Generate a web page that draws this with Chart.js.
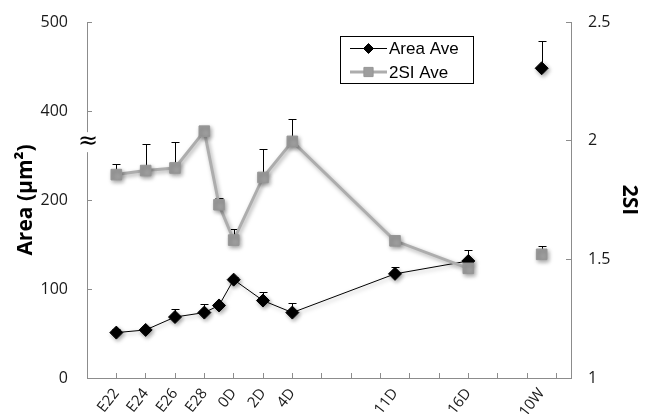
<!DOCTYPE html>
<html>
<head>
<meta charset="utf-8">
<script src="https://cdn.jsdelivr.net/npm/chart.js@4.4.1/dist/chart.umd.min.js"></script>
<style>
  html, body { margin: 0; padding: 0; background: #fff; }
  #wrap { position: relative; width: 654px; height: 414px; }
</style>
</head>
<body>
<div id="wrap"><canvas id="c" width="654" height="414"></canvas></div>
<script>
// ── Data ─────────────────────────────────────────────────────────────────────

const stages   = ['E22', 'E24', 'E26', 'E28', '', '0D', '2D', '4D', '11D', '16D', '10W'];
const stagePos = [1, 2, 3, 4, 4.5, 5, 6, 7, 10.5, 13, 15.5];

const areaAve = [51, 54, 68.5, 73.5, 81.5, 110.5, 87, 73.5, 117, 131.5, 448];
const areaErr = [4, 3, 8.5, 10, 3, 3, 9.5, 11, 7.5, 12, 31];

const siAve = [1.857, 1.874, 1.885, 2.040, 1.730, 1.581, 1.845, 1.997, 1.578, 1.462, 1.521];
const siErr = [0.045, 0.112, 0.108, 0.02, 0.027, 0.046, 0.12, 0.095, 0.02, 0.02, 0.036];

const areaTickLabels = ['0', '100', '200', '400', '500'];

// the area axis skips 300: everything above it slides down one step
const BREAK = 300;
const toAxis = v => v > BREAK ? v - 100 : v;

const FONT = "'Open Sans', sans-serif";
const AXIS_GREY = '#8c8c8c';
const lastIdx = stagePos.length - 1;

// ── Plugins ──────────────────────────────────────────────────────────────────

const shadow = {
  id: 'shadow',
  beforeDatasetDraw(chart) {
    const ctx = chart.ctx;
    ctx.save();
    ctx.shadowColor = 'rgba(0,0,0,0.35)';
    ctx.shadowBlur = 4;
    ctx.shadowOffsetX = 1.5;
    ctx.shadowOffsetY = 2;
  },
  afterDatasetDraw(chart) {
    chart.ctx.restore();
  }
};

const errorBars = {
  id: 'errorBars',
  beforeDatasetsDraw(chart) {
    const ctx = chart.ctx;
    ctx.save();
    ctx.strokeStyle = '#000';
    ctx.lineWidth = 1;
    chart.data.datasets.forEach((ds, di) => {
      const meta = chart.getDatasetMeta(di);
      const yScale = chart.scales[ds.yAxisID];
      meta.data.forEach((pt, i) => {
        const yTop = Math.round(yScale.getPixelForValue(ds.errTop[i])) + 0.5;
        const x = Math.round(pt.x) + 0.5;
        ctx.beginPath();
        ctx.moveTo(x, pt.y);
        ctx.lineTo(x, yTop);
        ctx.moveTo(x - 4, yTop);
        ctx.lineTo(x + 4, yTop);
        ctx.stroke();
      });
    });
    ctx.restore();
  }
};

const axisBreak = {
  id: 'axisBreak',
  afterDraw(chart) {
    const ctx = chart.ctx;
    const s = chart.scales.yArea;
    const y = s.getPixelForValue(265);
    const x = s.right;
    ctx.save();
    ctx.fillStyle = '#fff';
    ctx.fillRect(x - 3, y - 10, 6, 20);
    ctx.fillStyle = '#000';
    ctx.font = "24px 'DejaVu Sans', sans-serif";
    ctx.textAlign = 'center';
    ctx.textBaseline = 'middle';
    ctx.fillText('≈', x + 1, y);
    ctx.restore();
  }
};

const boxLegend = {
  id: 'boxLegend',
  afterDraw(chart) {
    const ctx = chart.ctx;
    ctx.save();
    ctx.fillStyle = '#fff';
    ctx.fillRect(340, 36, 133, 47);
    ctx.strokeStyle = '#000';
    ctx.lineWidth = 1;
    ctx.strokeRect(340.5, 36.5, 133, 47);
    chart.data.datasets.forEach((ds, i) => {
      const y = 48.5 + i * 23.5;
      ctx.strokeStyle = ds.borderColor;
      ctx.lineWidth = ds.borderWidth;
      ctx.beginPath();
      ctx.moveTo(350, y);
      ctx.lineTo(387, y);
      ctx.stroke();
      ctx.fillStyle = ds.pointBackgroundColor;
      ctx.strokeStyle = ds.pointBorderColor;
      ctx.lineWidth = 1;
      Chart.helpers.drawPoint(ctx, {
        pointStyle: ds.pointStyle,
        radius: ds.legendRadius,
        borderWidth: 1,
        rotation: 0
      }, 368.5, y);
      ctx.fillStyle = '#000';
      ctx.font = "17px 'Liberation Sans', Arial, sans-serif";
      ctx.textAlign = 'left';
      ctx.textBaseline = 'middle';
      ctx.fillText(ds.label, 389, y + 1);
    });
    ctx.restore();
  }
};

// ── Chart ────────────────────────────────────────────────────────────────────

const xTickValues = [];
for (let v = 0; v <= 16; v++) xTickValues.push(v);
stagePos.forEach((p, i) => {
  if (stages[i] && !Number.isInteger(p)) xTickValues.push(p);
});
xTickValues.sort((a, b) => a - b);

// fixed axis box sizes so the plot sits where the original one does
const fixWidth = w => s => {
  s.width = w;
  s.paddingTop = 0;
  s.paddingBottom = 0;
};

const ctx = document.getElementById('c').getContext('2d');

new Chart(ctx, {
  type: 'line',
  data: {
    datasets: [
      {
        label: 'Area Ave',
        yAxisID: 'yArea',
        data: stagePos.map((x, i) => ({ x, y: toAxis(areaAve[i]) })),
        errTop: areaAve.map((v, i) => toAxis(v + areaErr[i])),
        borderColor: '#000',
        borderWidth: 1,
        pointStyle: 'rectRot',
        pointRadius: 6.5,
        legendRadius: 5,
        pointBorderWidth: 1,
        pointBackgroundColor: '#000',
        pointBorderColor: '#000',
        order: 2,
        segment: {
          borderColor: c => c.p1DataIndex === lastIdx ? 'rgba(0,0,0,0)' : undefined
        }
      },
      {
        label: '2SI Ave',
        yAxisID: 'ySI',
        data: stagePos.map((x, i) => ({ x, y: siAve[i] })),
        errTop: siAve.map((v, i) => v + siErr[i]),
        borderColor: '#adadad',
        borderWidth: 3,
        pointStyle: 'rect',
        pointRadius: 7.5,
        legendRadius: 6.5,
        pointBorderWidth: 1,
        pointBackgroundColor: '#9e9e9e',
        pointBorderColor: '#969696',
        order: 1,
        segment: {
          borderColor: c => c.p1DataIndex === lastIdx ? 'rgba(0,0,0,0)' : undefined
        }
      }
    ]
  },
  options: {
    responsive: false,
    animation: false,
    devicePixelRatio: 1,
    layout: { padding: { top: 22, left: 0, right: 0, bottom: 0 } },
    plugins: {
      legend: { display: false },
      tooltip: { enabled: false }
    },
    scales: {
      x: {
        type: 'linear',
        position: 'bottom',
        min: 0,
        max: 16.5,
        afterBuildTicks: s => { s.ticks = xTickValues.map(v => ({ value: v })); },
        afterFit: s => { s.height = 36; },
        grid: {
          drawOnChartArea: false,
          tickLength: -5,
          color: c => (c.tick && Number.isInteger(c.tick.value)) ? AXIS_GREY : 'rgba(0,0,0,0)'
        },
        border: { color: AXIS_GREY, width: 1 },
        ticks: {
          autoSkip: false,
          minRotation: 52,
          maxRotation: 52,
          padding: 12,
          color: '#1a1a1a',
          font: { family: FONT, size: 15 },
          callback: v => {
            const i = stagePos.indexOf(v);
            return i >= 0 ? stages[i] : '';
          }
        }
      },
      yArea: {
        type: 'linear',
        position: 'left',
        min: 0,
        max: 400,
        afterFit: fixWidth(87),
        grid: { drawOnChartArea: false, tickLength: -5, color: AXIS_GREY },
        border: { color: AXIS_GREY, width: 1 },
        ticks: {
          stepSize: 100,
          padding: 24,
          color: '#1a1a1a',
          font: { family: FONT, size: 16 },
          callback: (v, i) => areaTickLabels[i]
        },
        title: {
          display: true,
          text: 'Area (µm²)',
          color: '#000',
          font: { family: FONT, size: 21, weight: 'bold' },
          padding: { top: 13, bottom: 0 }
        }
      },
      ySI: {
        type: 'linear',
        position: 'right',
        min: 1,
        max: 2.5,
        afterFit: fixWidth(83),
        grid: { drawOnChartArea: false, tickLength: -5, color: AXIS_GREY },
        border: { color: AXIS_GREY, width: 1 },
        ticks: {
          stepSize: 0.5,
          padding: 22,
          color: '#1a1a1a',
          font: { family: FONT, size: 16 },
          callback: v => String(v)
        },
        title: {
          display: true,
          text: '2SI',
          color: '#000',
          font: { family: FONT, size: 21, weight: 'bold' },
          padding: { top: 12, bottom: 0 }
        }
      }
    }
  },
  plugins: [shadow, errorBars, axisBreak, boxLegend]
});
</script>
</body>
</html>
